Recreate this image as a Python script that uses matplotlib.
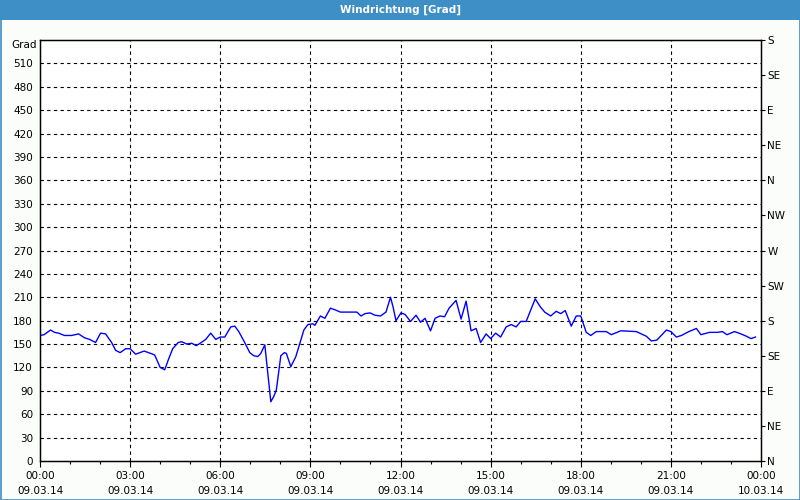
#!/usr/bin/env python3
"""Windrichtung over one day (09.03.14), redrawn from a station plot."""
import matplotlib
matplotlib.use("Agg")
import matplotlib.pyplot as plt
from matplotlib.patches import Rectangle

# Minutes after 09.03.14 00:00 and direction in degrees.
minutes = [
    0, 8, 21, 29, 37, 49, 63, 77, 89, 99, 111, 121, 131, 143, 151, 160, 171, 180,
    191, 208, 221, 229, 240, 249, 257, 265, 276, 283, 293, 303, 312, 320, 331, 341,
    351, 360, 369, 381, 389, 397, 408, 419, 427, 435, 441, 449, 461, 467, 472, 481,
    488, 492, 501, 511, 519, 527, 535, 545, 549, 560, 569, 580, 589, 600, 633, 641,
    649, 659, 669, 680, 691, 700, 705, 711, 721, 729, 740, 751, 760, 769, 780, 789,
    799, 808, 817, 831, 841, 851, 861, 871, 880, 891, 900, 910, 920, 931, 941, 951,
    960, 971, 979, 989, 999, 1008, 1020, 1031, 1040, 1049, 1061, 1071, 1080, 1091,
    1100, 1111, 1131, 1141, 1160, 1191, 1211, 1221, 1232, 1251, 1260, 1271, 1281,
    1296, 1311, 1320, 1337, 1353, 1363, 1372, 1387, 1400, 1411, 1420, 1429,
]
direction = [
    161, 162, 168, 165, 164, 161, 161, 163, 158, 156, 152, 164, 163, 152, 142, 139, 144, 144,
    137, 141, 138, 136, 120, 117, 131, 144, 152, 153, 150, 151, 148, 151, 156, 164,
    156, 159, 159, 172, 173, 166, 153, 139, 135, 134, 138, 149, 76, 83, 91, 135,
    139, 138, 121, 134, 151, 168, 175, 176, 174, 186, 183, 196, 194, 191, 191, 186,
    189, 190, 187, 186, 191, 210, 198, 180, 190, 188, 179, 187, 178, 183, 167, 183,
    186, 185, 196, 206, 182, 205, 167, 170, 152, 163, 157, 164, 159, 172, 175, 172,
    179, 179, 192, 208, 198, 191, 186, 192, 189, 193, 173, 186, 186, 165,
    161, 166, 166, 162, 167, 166, 160, 154, 155, 168, 166, 159, 161,
    166, 170, 162, 165, 165, 166, 162, 166, 163, 160, 157, 159,
]

x_ticks = [0, 180, 360, 540, 720, 900, 1080, 1260, 1440]
x_labels = ["00:00\n09.03.14", "03:00\n09.03.14", "06:00\n09.03.14", "09:00\n09.03.14",
            "12:00\n09.03.14", "15:00\n09.03.14", "18:00\n09.03.14", "21:00\n09.03.14",
            "00:00\n10.03.14"]
y_ticks = list(range(0, 540, 30))
compass_ticks = list(range(0, 541, 45))
compass_labels = ["N", "NE", "E", "SE", "S", "SW", "W", "NW", "N", "NE", "E", "SE", "S"]

BAR_BLUE = "#3d8fc6"
BG = "#fbfdfb"
FS = 7.5


def main() -> None:
    fig = plt.figure(figsize=(8, 5), dpi=100, facecolor=BG)

    # title bar and thin frame round the window
    fig.patches.append(Rectangle((0, 480 / 500), 1, 20 / 500, transform=fig.transFigure,
                                 facecolor=BAR_BLUE, edgecolor="none", zorder=0))
    fig.patches.append(Rectangle((0.5 / 800, 0.5 / 500), 799 / 800, 499 / 500,
                                 transform=fig.transFigure, facecolor="none",
                                 edgecolor=BAR_BLUE, linewidth=1.2, zorder=0))
    fig.text(0.5, 490 / 500, "Windrichtung [Grad]", color="white", fontsize=FS,
             fontweight="bold", ha="center", va="center")

    ax = fig.add_axes([40 / 800, 39 / 500, 721 / 800, 421 / 500])
    ax.set_facecolor("white")
    ax.plot(minutes, direction, color="#0000ff", linewidth=1.0, zorder=3)

    ax.set_xlim(0, 1440)
    ax.set_ylim(0, 540)
    ax.set_xticks(x_ticks)
    ax.set_xticklabels(x_labels, fontsize=FS, linespacing=1.6)
    ax.set_xticks(range(0, 1441, 60), minor=True)
    ax.set_yticks(y_ticks)
    ax.set_yticklabels([str(v) for v in y_ticks], fontsize=FS)
    ax.tick_params(axis="x", which="major", length=4, width=0.8, pad=3)
    ax.tick_params(axis="x", which="minor", length=2.5, width=0.8)
    ax.tick_params(axis="y", length=0, pad=5)

    dash = dict(color="black", linewidth=0.8, linestyle=(0, (3, 3)))
    for v in y_ticks[1:]:
        ax.axhline(v, zorder=1, **dash)
    for t in x_ticks[1:-1]:
        ax.axvline(t, zorder=1, **dash)

    for sp in ax.spines.values():
        sp.set_color("black")
        sp.set_linewidth(1.0)

    ax2 = ax.twinx()
    ax2.set_ylim(0, 540)
    ax2.set_yticks(compass_ticks)
    ax2.set_yticklabels(compass_labels, fontsize=FS)
    ax2.tick_params(axis="y", length=3, width=0.8, pad=1.5)

    ax.text(-0.005, 1.0, "Grad", transform=ax.transAxes, fontsize=FS,
            ha="right", va="top")

    fig.savefig("out.png", dpi=100, facecolor=BG)


if __name__ == "__main__":
    main()
